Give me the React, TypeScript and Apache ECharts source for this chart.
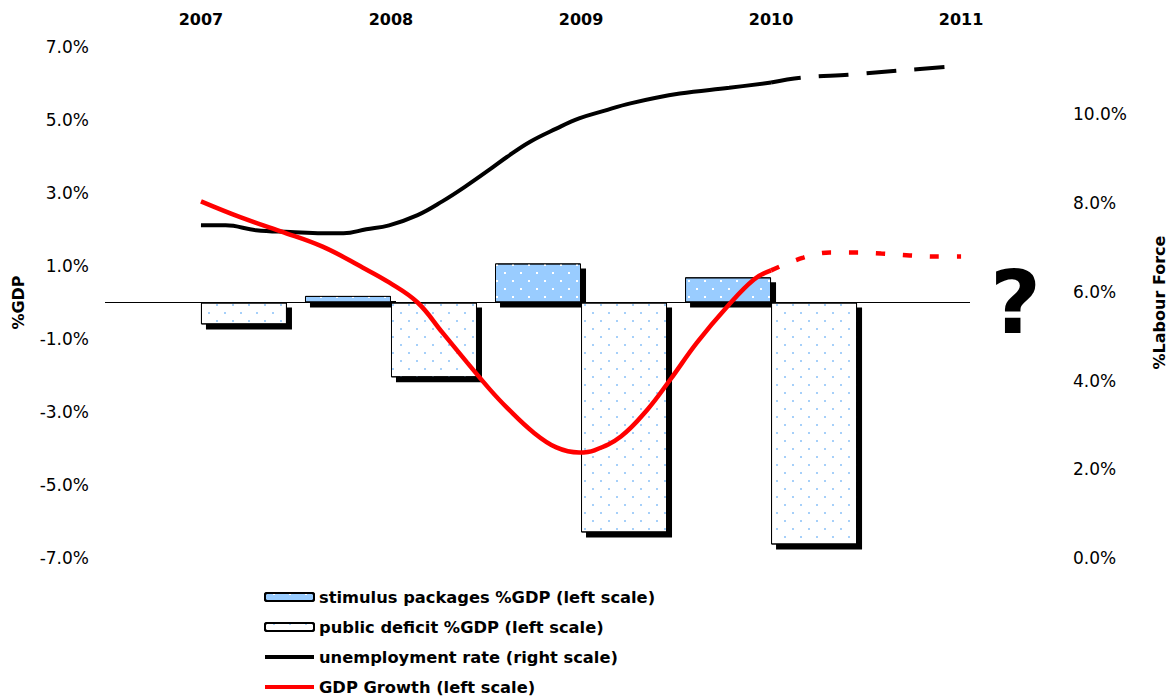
import React, { useEffect, useRef } from "react";
import * as echarts from "echarts";

// ---- data ----
const years = [2007, 2008, 2009, 2010];
const yearLabels = [2007, 2008, 2009, 2010, 2011];
const stimulus: (number | null)[] = [null, 0.18, 1.07, 0.69];
const deficit = [-0.6, -2.05, -6.3, -6.63];

const unempT = [2007.0, 2007.13, 2007.29, 2007.47, 2007.64, 2007.75, 2007.87, 2007.99, 2008.14, 2008.27, 2008.4, 2008.52, 2008.61, 2008.73, 2008.87, 2008.99, 2009.12, 2009.26, 2009.52, 2009.78, 2010.0];
const unempV = [7.5, 7.5, 7.39, 7.35, 7.32, 7.32, 7.41, 7.5, 7.73, 8.04, 8.4, 8.76, 9.04, 9.38, 9.68, 9.91, 10.08, 10.25, 10.47, 10.6, 10.72];
const unempProjT = [2010.0, 2010.16, 2010.42, 2010.68, 2010.95];
const unempProjV = [10.72, 10.83, 10.9, 10.99, 11.08];

const gdpT = [2007.0, 2007.21, 2007.42, 2007.64, 2007.85, 2007.99, 2008.14, 2008.27, 2008.4, 2008.52, 2008.61, 2008.75, 2008.87, 2008.99, 2009.07, 2009.21, 2009.35, 2009.47, 2009.61, 2009.77, 2009.91, 2010.0];
const gdpV = [2.77, 2.33, 1.95, 1.53, 0.96, 0.55, 0.0, -0.82, -1.64, -2.38, -2.88, -3.56, -3.97, -4.11, -4.05, -3.67, -2.93, -2.11, -1.1, -0.11, 0.63, 0.88];
const gdpProjT = [2010.0, 2010.17, 2010.31, 2010.45, 2010.58, 2010.73, 2010.87, 2011.0];
const gdpProjV = [0.88, 1.23, 1.37, 1.37, 1.34, 1.29, 1.26, 1.26];

const leftTicks = [-7, -5, -3, -1, 1, 3, 5, 7];
const rightTicks = [0, 2, 4, 6, 8, 10];

const NAMES = [
  "stimulus packages %GDP (left scale)",
  "public deficit %GDP (left scale)",
  "unemployment rate (right scale)",
  "GDP Growth (left scale)",
];

const FONT = "'DejaVu Sans', sans-serif";
const BAR_OFFSET = 0.2263; // half bar width, in years
const SHADOW = 5;

const zip = (t: number[], v: (number | null)[]) => t.map((x, i) => [x, v[i] == null ? "-" : v[i]]);

export default function App() {
  const ref = useRef<HTMLDivElement>(null);
  useEffect(() => {
    if (!ref.current) return;
    const chart = echarts.init(ref.current, null, { renderer: "svg" });

    const stimData = zip(years.map((y) => y - BAR_OFFSET), stimulus);
    const defData = zip(years.map((y) => y + BAR_OFFSET), deficit);
    const shadowData = [...stimData, ...defData].filter((d) => d[1] !== "-");

    const decalBase = {
      symbol: "rect",
      symbolSize: 1,
      dashArrayX: [[2, 13.3], [0, 7.65, 2, 5.65]],
      dashArrayY: [2, 5.8],
      rotation: 0,
    };

    const option: any = {
      animation: false,
      backgroundColor: "#fff",
      textStyle: { fontFamily: FONT },
      grid: { left: 105, right: 205, top: 47, bottom: 141 },
      xAxis: {
        type: "value",
        position: "top",
        min: 2006.495,
        max: 2011.047,
        axisLine: { show: false },
        axisTick: { show: false },
        splitLine: { show: false },
        axisLabel: {
          customValues: yearLabels,
          formatter: (v: number) => String(v),
          fontFamily: FONT,
          fontWeight: "bold",
          fontSize: 16,
          color: "#000",
          margin: 20,
        },
      },
      yAxis: [
        {
          type: "value",
          min: -7,
          max: 7,
          name: "%GDP",
          nameLocation: "middle",
          nameRotate: 90,
          nameGap: 79,
          nameTextStyle: { fontFamily: FONT, fontWeight: "bold", fontSize: 16, color: "#000" },
          axisLine: { show: false },
          axisTick: { show: false },
          splitLine: { show: false },
          axisLabel: {
            customValues: leftTicks,
            formatter: (v: number) => v.toFixed(1) + "%",
            fontFamily: FONT,
            fontSize: 17,
            color: "#000",
            margin: 16,
          },
        },
        {
          type: "value",
          position: "right",
          min: 0,
          max: 11.52,
          name: "%Labour Force",
          nameLocation: "middle",
          nameRotate: 90,
          nameGap: 181,
          nameTextStyle: { fontFamily: FONT, fontWeight: "bold", fontSize: 16, color: "#000" },
          axisLine: { show: false },
          axisTick: { show: false },
          splitLine: { show: false },
          axisLabel: {
            customValues: rightTicks,
            formatter: (v: number) => v.toFixed(1) + "%",
            fontFamily: FONT,
            fontSize: 17,
            color: "#000",
            margin: 103,
          },
        },
      ],
      legend: {
        orient: "vertical",
        left: 263,
        top: 588,
        height: 130,
        padding: 0,
        itemWidth: 49,
        itemHeight: 8,
        itemGap: 12,
        data: [
          { name: NAMES[0] },
          { name: NAMES[1] },
          { name: NAMES[2], itemStyle: { color: "rgba(0,0,0,0)", borderWidth: 0 }, lineStyle: { width: 4 } },
          { name: NAMES[3], itemStyle: { color: "rgba(0,0,0,0)", borderWidth: 0 }, lineStyle: { width: 4 } },
        ],
        textStyle: { fontFamily: FONT, fontWeight: "bold", fontSize: 16.3, color: "#000", lineHeight: 18 },
      },
      series: [
        {
          name: "shadow",
          type: "custom",
          z: 2,
          silent: true,
          data: shadowData,
          renderItem: (params: any, api: any) => {
            const x = api.value(0);
            const v = api.value(1);
            const a = api.coord([x, 0]);
            const b = api.coord([x, v]);
            const w = api.size([2 * BAR_OFFSET, 0])[0];
            return {
              type: "rect",
              shape: {
                x: a[0] - w / 2 + SHADOW,
                y: Math.min(a[1], b[1]) + SHADOW,
                width: w,
                height: Math.abs(b[1] - a[1]),
              },
              style: { fill: "#000" },
            };
          },
        },
        {
          name: NAMES[0],
          type: "bar",
          barWidth: 86,
          barGap: "-100%",
          z: 3,
          data: stimData,
          itemStyle: {
            color: "#99ccff",
            borderColor: "#000",
            borderWidth: 1,
            decal: { ...decalBase, color: "#ffffff" },
          },
        },
        {
          name: NAMES[1],
          type: "bar",
          barWidth: 86,
          barGap: "-100%",
          z: 3,
          data: defData,
          itemStyle: {
            color: "#ffffff",
            borderColor: "#000",
            borderWidth: 1,
            decal: { ...decalBase, color: "#a6d0fa" },
          },
          markLine: {
            silent: true,
            symbol: "none",
            label: { show: false },
            lineStyle: { color: "#000", width: 1, type: "solid" },
            data: [{ yAxis: 0 }],
            z: 1,
          },
        },
        {
          name: NAMES[2],
          type: "line",
          yAxisIndex: 1,
          symbol: "none",
          smooth: 0.4,
          z: 4,
          color: "#000",
          lineStyle: { color: "#000", width: 4 },
          data: zip(unempT, unempV),
        },
        {
          name: "unemployment projection",
          type: "line",
          yAxisIndex: 1,
          symbol: "none",
          smooth: 0.4,
          z: 4,
          color: "#000",
          lineStyle: { color: "#000", width: 4, type: [30, 18], cap: "butt" },
          data: zip(unempProjT, unempProjV),
        },
        {
          name: NAMES[3],
          type: "line",
          yAxisIndex: 0,
          symbol: "none",
          smooth: 0.4,
          z: 4,
          color: "#ff0000",
          lineStyle: { color: "#ff0000", width: 4.5 },
          data: zip(gdpT, gdpV),
        },
        {
          name: "GDP projection",
          type: "line",
          yAxisIndex: 0,
          symbol: "none",
          smooth: 0.4,
          z: 4,
          color: "#ff0000",
          lineStyle: { color: "#ff0000", width: 4.5, type: [9, 18], cap: "butt" },
          data: zip(gdpProjT, gdpProjV),
        },
      ],
      graphic: [
        {
          type: "text",
          left: 990,
          top: 258,
          style: { text: "?", fontFamily: FONT, fontWeight: "bold", fontSize: 88, fill: "#000" },
        },
      ],
    };
    chart.setOption(option);
    return () => chart.dispose();
  }, []);
  return <div ref={ref} style={{ position: "absolute", left: 0, top: 0, width: 1175, height: 699 }} />;
}
